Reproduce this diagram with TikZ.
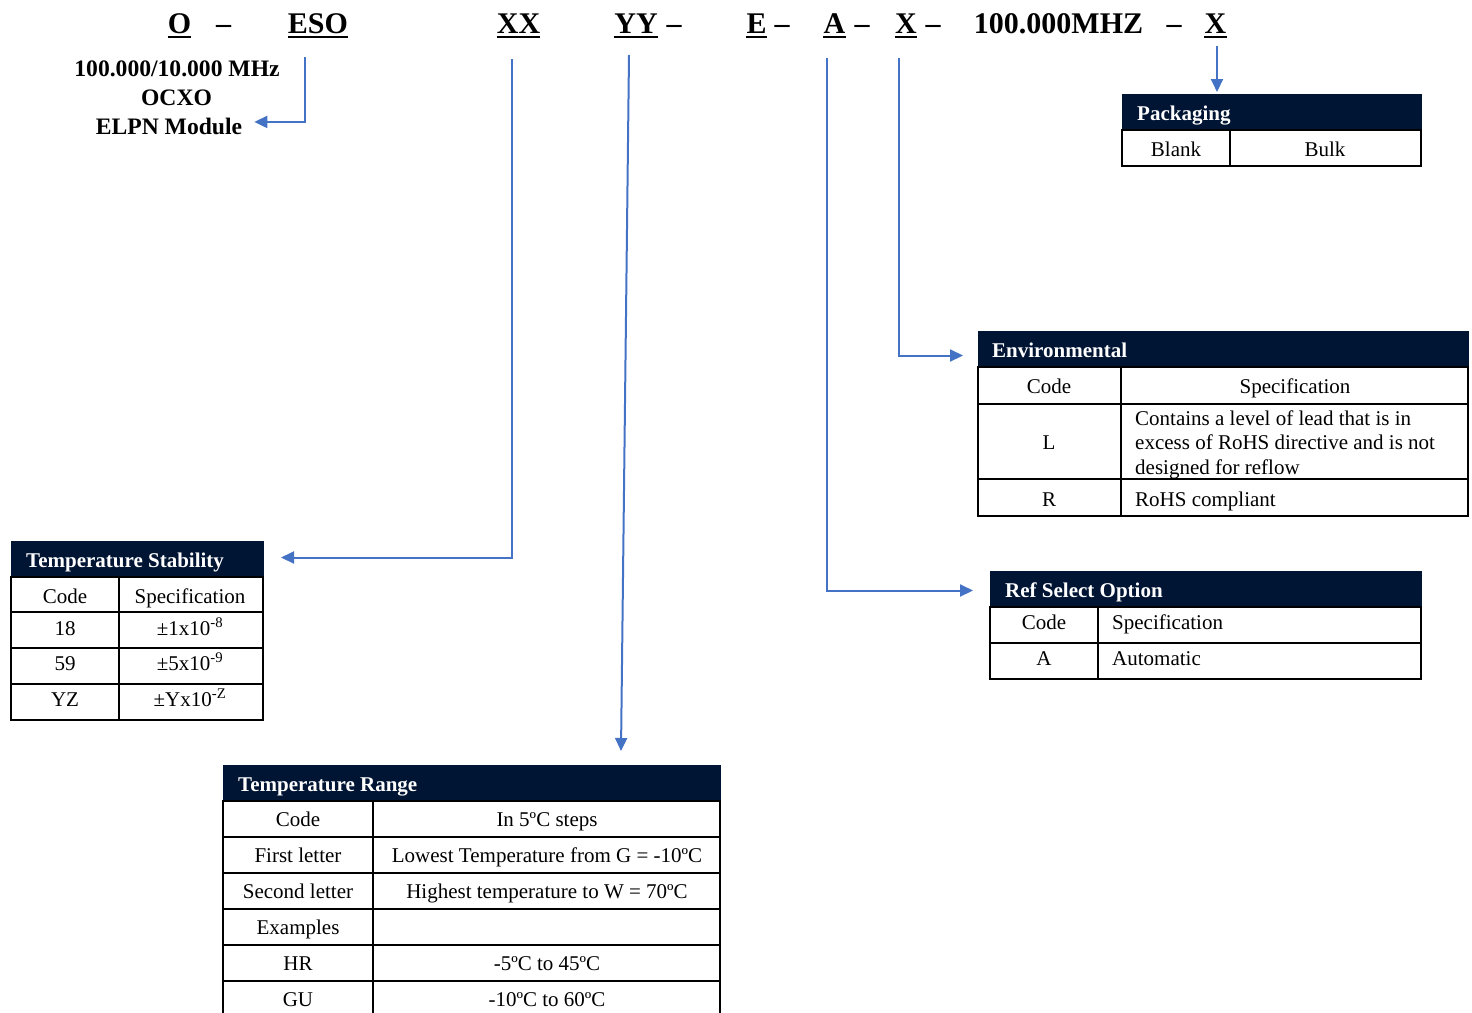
\documentclass[tikz,border=0pt]{standalone}
\usepackage{fontspec}
\setmainfont{Liberation Serif}
\usetikzlibrary{arrows.meta}
\definecolor{navy}{RGB}{0,20,52}
\definecolor{lblue}{RGB}{68,114,196}
\begin{document}
\begin{tikzpicture}[x=1pt,y=-1pt,
  code/.style={font=\fontsize{30}{36}\selectfont\bfseries, inner sep=0, anchor=base},
  sub/.style={font=\fontsize{23.6}{28}\selectfont\bfseries, inner sep=0, anchor=base},
  ht/.style={font=\fontsize{21}{25}\selectfont\bfseries, text=white, inner sep=0, anchor=base west},
  td/.style={font=\fontsize{21}{25}\selectfont, inner sep=0, anchor=base},
  tdl/.style={td, anchor=base west},
  band/.style={fill=navy, draw=navy, line width=1pt, inner sep=0, anchor=north west, minimum height=36pt},
  grid/.style={draw=black, line width=2pt},
  conn/.style={draw=lblue, line width=2pt, -{Triangle[length=13pt,width=12pt]}},
  ul/.style={line width=2.5pt}]
\useasboundingbox (0,0) rectangle (1472,1012);

% ---- part number code ----
\node[code] (cO) at (179.5,33) {O};
\node[code] (d1) at (223.5,33) {–};
\node[code] (cESO) at (318,33) {ESO};
\node[code] (cXX) at (518.5,33) {XX};
\node[code] (cYY) at (636,33) {YY};
\node[code] (d2) at (674,33) {–};
\node[code] (cE) at (756.5,33) {E};
\node[code] (d3) at (782,33) {–};
\node[code] (cA) at (834.5,33) {A};
\node[code] (d4) at (862,33) {–};
\node[code] (cX1) at (906,33) {X};
\node[code] (d5) at (933,33) {–};
\node[code] (cF) at (1058.5,33) {100.000MHZ};
\node[code] (d6) at (1174,33) {–};
\node[code] (cX2) at (1215.5,33) {X};
\foreach \n in {cO,cESO,cXX,cYY,cE,cA,cX1,cX2}
  \draw[ul] ([yshift=-4pt]\n.base west) -- ([yshift=-4pt]\n.base east);

% ---- subtitle ----
\node[sub] (s1) at (177,76) {100.000/10.000 MHz};
\node[sub] (s2) at (176.5,105) {OCXO};
\node[sub] (s3) at (169,134) {ELPN Module};

% ---- Packaging ----
\node[band, minimum width=299pt] (pkH) at (1122,94) {};
\node[ht] (pkT) at (1137,120) {Packaging};
\draw[grid] (1122,130) rectangle (1421,166);
\draw[grid] (1230,130) -- (1230,166);
\node[td] (pk1) at (1176,156) {Blank};
\node[td] (pk2) at (1325,156) {Bulk};

% ---- Environmental ----
\node[band, minimum width=490pt] (envH) at (978,331) {};
\node[ht] (envT) at (992,357) {Environmental};
\draw[grid] (978,367) rectangle (1468,516);
\draw[grid] (978,404) -- (1468,404);
\draw[grid] (978,479) -- (1468,479);
\draw[grid] (1121,367) -- (1121,516);
\node[td] (env11) at (1049,393) {Code};
\node[td] (env12) at (1295,393) {Specification};
\node[td] (env21) at (1049,449) {L};
\node[tdl] (env22a) at (1135,425) {Contains a level of lead that is in};
\node[tdl] (env22b) at (1135,449) {excess of RoHS directive and is not};
\node[tdl] (env22c) at (1135,474) {designed for reflow};
\node[td] (env31) at (1049,506) {R};
\node[tdl] (env32) at (1135,506) {RoHS compliant};

% ---- Temperature Stability ----
\node[band, minimum width=252pt] (tsH) at (11,541) {};
\node[ht] (tsT) at (26,567) {Temperature Stability};
\draw[grid] (11,577) rectangle (263,720);
\draw[grid] (11,612) -- (263,612);
\draw[grid] (11,648) -- (263,648);
\draw[grid] (11,684) -- (263,684);
\draw[grid] (119,577) -- (119,720);
\node[td] (ts11) at (65,603) {Code};
\node[td] (ts12) at (190,603) {Specification};
\node[td] (ts21) at (65,635) {18};
\node[td] (ts22) at (190,635) {±1x10\textsuperscript{-8}};
\node[td] (ts31) at (65,670) {59};
\node[td] (ts32) at (190,670) {±5x10\textsuperscript{-9}};
\node[td] (ts41) at (65,706) {YZ};
\node[td] (ts42) at (190,706) {±Yx10\textsuperscript{-Z}};

% ---- Ref Select Option ----
\node[band, minimum width=431pt] (rsH) at (990,571) {};
\node[ht] (rsT) at (1005,597) {Ref Select Option};
\draw[grid] (990,607) rectangle (1421,679);
\draw[grid] (990,643) -- (1421,643);
\draw[grid] (1098,607) -- (1098,679);
\node[td] (rs11) at (1044,629) {Code};
\node[tdl] (rs12) at (1112,629) {Specification};
\node[td] (rs21) at (1044,665) {A};
\node[tdl] (rs22) at (1112,665) {Automatic};

% ---- Temperature Range ----
\node[band, minimum width=497pt] (trH) at (223,765) {};
\node[ht] (trT) at (238,791) {Temperature Range};
\draw[grid] (223,1013) -- (223,801) -- (720,801) -- (720,1013);
\foreach \yy in {837,873,909,945,981} \draw[grid] (223,\yy) -- (720,\yy);
\draw[grid] (373,801) -- (373,1013);
\node[td] (tr11) at (298,826) {Code};
\node[td] (tr12) at (547,826) {In 5ºC steps};
\node[td] (tr21) at (298,862) {First letter};
\node[td] (tr22) at (547,862) {Lowest Temperature from G = -10ºC};
\node[td] (tr31) at (298,898) {Second letter};
\node[td] (tr32) at (547,898) {Highest temperature to W = 70ºC};
\node[td] (tr41) at (298,934) {Examples};
\node[td] (tr51) at (298,970) {HR};
\node[td] (tr52) at (547,970) {-5ºC to 45ºC};
\node[td] (tr61) at (298,1006) {GU};
\node[td] (tr62) at (547,1006) {-10ºC to 60ºC};

% ---- connectors ----
\coordinate (tESO) at (305,57);
\coordinate (tXX) at (512,59);
\coordinate (tYY) at (629,55);
\coordinate (tA) at (827,58);
\coordinate (tX1) at (899,58);
\coordinate (tX2) at (1217,46);
\draw[conn] (tESO) |- ([xshift=12pt,yshift=4pt]s3.east);
\draw[conn] (tXX) |- ([xshift=17pt,yshift=2pt]tsH.east);
\draw[conn] (tYY) -- ([xshift=398pt,yshift=14pt]trH.north west);
\draw[conn] (tA) |- ([xshift=-17pt,yshift=-1pt]rsH.west);
\draw[conn] (tX1) |- ([xshift=-15pt,yshift=-6pt]envH.west);
\draw[conn] (tX2) -- ([xshift=95pt,yshift=2pt]pkH.north west);
\end{tikzpicture}
\end{document}
